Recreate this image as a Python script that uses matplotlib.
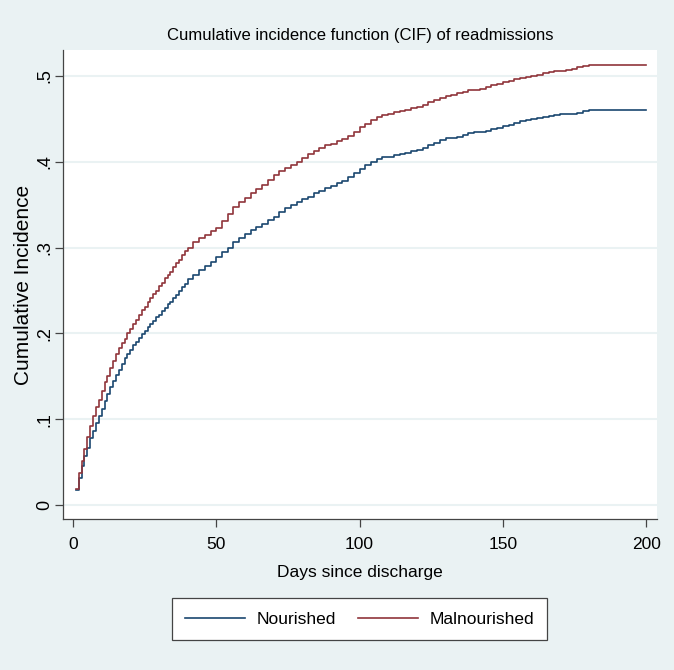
import matplotlib
matplotlib.use('Agg')
import matplotlib.pyplot as plt

plt.rcParams['font.family'] = ['Liberation Sans', 'DejaVu Sans']

# follow-up days where the curves are read: daily to day 40, then every 2 days
days = list(range(1, 41)) + list(range(42, 181, 2)) + [200]

nourished = [
    0.018, 0.032, 0.046, 0.057, 0.067, 0.078, 0.087, 0.096, 0.104, 0.112,
    0.121, 0.130, 0.138, 0.145, 0.152, 0.158, 0.165, 0.171, 0.176, 0.181,
    0.186, 0.190, 0.195, 0.199, 0.203, 0.207, 0.211, 0.215, 0.219, 0.222,
    0.226, 0.230, 0.234, 0.237, 0.241, 0.245, 0.250, 0.254, 0.258, 0.263,
    # 42 .. 180 step 2
    0.268, 0.274, 0.279, 0.283, 0.289, 0.295, 0.300, 0.306, 0.311, 0.316,
    0.320, 0.324, 0.328, 0.332, 0.336, 0.341, 0.346, 0.349, 0.353, 0.356,
    0.359, 0.363, 0.366, 0.369, 0.372, 0.375, 0.378, 0.382, 0.387, 0.392,
    0.396, 0.400, 0.403, 0.405, 0.406, 0.408, 0.409, 0.410, 0.412, 0.414,
    0.416, 0.419, 0.422, 0.425, 0.427, 0.428, 0.429, 0.431, 0.433, 0.434,
    0.435, 0.436, 0.438, 0.439, 0.441, 0.443, 0.445, 0.447, 0.449, 0.450,
    0.451, 0.452, 0.453, 0.454, 0.455, 0.456, 0.456, 0.457, 0.459, 0.460,
    0.460,
]

malnourished = [
    0.019, 0.038, 0.052, 0.065, 0.079, 0.092, 0.104, 0.114, 0.123, 0.133,
    0.143, 0.150, 0.160, 0.168, 0.176, 0.183, 0.189, 0.194, 0.200, 0.205,
    0.211, 0.216, 0.222, 0.227, 0.231, 0.237, 0.241, 0.246, 0.250, 0.255,
    0.259, 0.264, 0.268, 0.272, 0.277, 0.282, 0.286, 0.291, 0.296, 0.300,
    # 42 .. 180 step 2
    0.306, 0.311, 0.315, 0.319, 0.323, 0.331, 0.339, 0.347, 0.353, 0.358,
    0.363, 0.368, 0.373, 0.379, 0.385, 0.389, 0.393, 0.396, 0.400, 0.404,
    0.409, 0.413, 0.416, 0.419, 0.421, 0.424, 0.426, 0.430, 0.434, 0.440,
    0.444, 0.448, 0.452, 0.454, 0.456, 0.458, 0.459, 0.460, 0.462, 0.464,
    0.466, 0.469, 0.472, 0.474, 0.476, 0.478, 0.480, 0.481, 0.483, 0.484,
    0.485, 0.487, 0.489, 0.491, 0.493, 0.494, 0.496, 0.497, 0.499, 0.500,
    0.501, 0.503, 0.504, 0.505, 0.506, 0.507, 0.508, 0.510, 0.511, 0.513,
    0.513,
]

x_ticks = [0, 50, 100, 150, 200]
y_ticks = [0, 0.1, 0.2, 0.3, 0.4, 0.5]
y_labels = ['0', '.1', '.2', '.3', '.4', '.5']

bg = '#eaf2f3'
W, H = 674, 670

fig = plt.figure(figsize=(W / 100, H / 100), dpi=100, facecolor=bg)
ax = fig.add_axes([63 / W, 1 - 519 / H, (657 - 63) / W, (519 - 50) / H])
ax.set_facecolor('white')

ax.step(days, nourished, where='post', color='#1a476f', lw=1.2, label='Nourished')
ax.step(days, malnourished, where='post', color='#90353b', lw=1.2, label='Malnourished')

ax.set_xlim(-3.5, 203.8)
ax.set_ylim(-0.016, 0.530)
ax.set_xticks(x_ticks)
ax.set_yticks(y_ticks)
ax.set_yticklabels(y_labels, rotation=90, va='center', fontsize=13)
ax.tick_params(axis='x', labelsize=12.5, pad=7)
ax.tick_params(length=6, color='#444444', width=0.9)
ax.tick_params(axis='y', pad=1)
ax.yaxis.grid(True, color=bg, lw=1.5)
ax.set_axisbelow(True)
for s in ['top', 'right']:
    ax.spines[s].set_visible(False)
for s in ['left', 'bottom']:
    ax.spines[s].set_color('#444444')
    ax.spines[s].set_linewidth(0.9)

ax.set_xlabel('Days since discharge', fontsize=12.5)
ax.xaxis.set_label_coords(0.5, (519 - 565) / 469)
ax.set_ylabel('Cumulative Incidence', fontsize=15)
ax.yaxis.set_label_coords((33 - 63) / 594, 0.5)
ax.set_title('Cumulative incidence function (CIF) of readmissions', fontsize=12, pad=7)

leg = fig.legend(loc='center', ncol=2, bbox_to_anchor=(359.5 / W, 1 - 619 / H),
                 fontsize=12.5, handlelength=3.5, handletextpad=0.65,
                 columnspacing=1.25, borderpad=0.75,
                 fancybox=False, framealpha=1, edgecolor='#444444')
leg.get_frame().set_linewidth(0.9)

fig.savefig('out.png', dpi=100, facecolor=bg)
